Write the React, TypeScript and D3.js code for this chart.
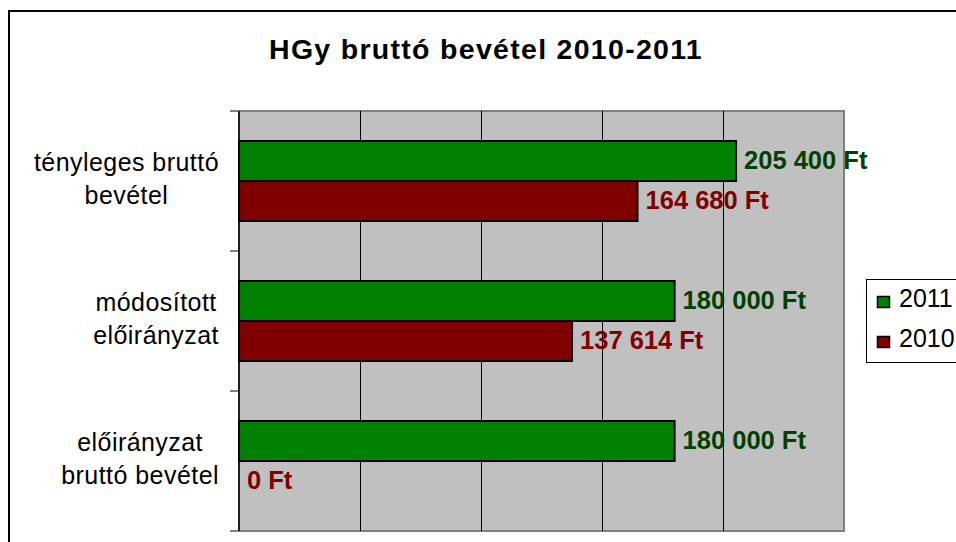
import React, { useEffect, useRef } from 'react';
import * as d3 from 'd3';

// chart data
const categoryLines: string[][] = [
  ['tényleges bruttó', 'bevétel'],
  ['módosított', 'előirányzat'],
  ['előirányzat', 'bruttó bevétel'],
];
const seriesNames = ['2011', '2010'];
const values2011 = [205400, 180000, 180000];
const values2010 = [164680, 137614, 0];
const xTicks = [0, 50000, 100000, 150000, 200000, 250000];

const FONT = '"Liberation Sans", Arial, sans-serif';
const barColors: Record<string, string> = { '2011': '#008000', '2010': '#800000' };
const labelColors: Record<string, string> = { '2011': '#004000', '2010': '#800000' };

const fmt = (v: number) => `${d3.format(',')(v).replace(/,/g, ' ')} Ft`;

const App = () => {
  const svgRef = useRef<SVGSVGElement>(null);

  useEffect(() => {
    const svg = d3.select(svgRef.current);
    svg.selectAll('*').remove();

    const W = 956;
    const H = 542;
    const plot = { left: 239, right: 844, top: 111, bottom: 531 };

    svg.append('rect').attr('width', W).attr('height', H).attr('fill', 'white');

    // outer chart frame (runs off the picture on right and bottom)
    svg
      .append('rect')
      .attr('x', 9)
      .attr('y', 11)
      .attr('width', 1200)
      .attr('height', 1200)
      .attr('fill', 'none')
      .attr('stroke', '#000')
      .attr('stroke-width', 2);

    // title
    svg
      .append('text')
      .attr('x', 486)
      .attr('y', 58.5)
      .attr('text-anchor', 'middle')
      .style('font-family', FONT)
      .style('font-size', '28.5px')
      .style('font-weight', 'bold')
      .style('letter-spacing', '1.3px')
      .text('HGy bruttó bevétel 2010-2011');

    const x = d3.scaleLinear().domain([0, 250000]).range([plot.left, plot.right]);
    const y = d3
      .scaleBand<number>()
      .domain(categoryLines.map((_, i) => i))
      .range([plot.top, plot.bottom]);
    const ySeries = d3
      .scaleBand<string>()
      .domain(seriesNames)
      .range([0, y.bandwidth()])
      .paddingInner(0)
      .paddingOuter(0.75);

    // plot background
    svg
      .append('rect')
      .attr('x', plot.left)
      .attr('y', plot.top)
      .attr('width', plot.right - plot.left)
      .attr('height', plot.bottom - plot.top)
      .attr('fill', '#C0C0C0')
      .attr('stroke', '#808080')
      .attr('stroke-width', 2);

    // vertical gridlines
    svg
      .selectAll('.grid')
      .data(xTicks.slice(1, -1))
      .enter()
      .append('line')
      .attr('x1', (d) => Math.round(x(d)) + 0.5)
      .attr('x2', (d) => Math.round(x(d)) + 0.5)
      .attr('y1', plot.top)
      .attr('y2', plot.bottom)
      .attr('stroke', '#000')
      .attr('stroke-width', 1);

    // category axis with tick marks between categories
    const boundaries = [plot.top, ...categoryLines.map((_, i) => (y(i) as number) + y.bandwidth())];
    svg
      .selectAll('.ytick')
      .data(boundaries)
      .enter()
      .append('line')
      .attr('x1', plot.left - 9)
      .attr('x2', plot.left)
      .attr('y1', (d) => d)
      .attr('y2', (d) => d)
      .attr('stroke', '#808080')
      .attr('stroke-width', 2);
    svg
      .append('line')
      .attr('x1', plot.left)
      .attr('x2', plot.left)
      .attr('y1', plot.top)
      .attr('y2', plot.bottom)
      .attr('stroke', '#202020')
      .attr('stroke-width', 2);

    const rows = categoryLines.map((lines, i) => ({
      i,
      lines,
      '2011': values2011[i],
      '2010': values2010[i],
    }));

    // bars
    seriesNames.forEach((s) => {
      svg
        .selectAll(`.bar-${s}`)
        .data(rows)
        .enter()
        .append('rect')
        .attr('x', x(0))
        .attr('y', (d) => (y(d.i) as number) + (ySeries(s) as number))
        .attr('width', (d) => x(d[s]) - x(0))
        .attr('height', ySeries.bandwidth())
        .attr('fill', barColors[s])
        .attr('stroke', (d) => (d[s] > 0 ? '#000' : 'none'))
        .attr('stroke-width', 2);

      svg
        .selectAll(`.lbl-${s}`)
        .data(rows)
        .enter()
        .append('text')
        .attr('x', (d) => x(d[s]) + 8)
        .attr('y', (d) => (y(d.i) as number) + (ySeries(s) as number) + ySeries.bandwidth() / 2 + 8)
        .attr('fill', labelColors[s])
        .style('font-family', FONT)
        .style('font-size', '25.5px')
        .style('font-weight', 'bold')
        .text((d) => fmt(d[s]));
    });

    // category labels: lines centred in a block that sits against the axis
    const blockRight = 219;
    rows.forEach((d) => {
      const g = svg.append('g');
      const texts = d.lines.map((line, k) =>
        g
          .append('text')
          .attr('y', (y(d.i) as number) + y.bandwidth() / 2 - 10 + k * 32.5)
          .attr('text-anchor', 'middle')
          .style('font-family', FONT)
          .style('font-size', '25px')
          .style('letter-spacing', '0.45px')
          .text(line)
      );
      const maxW = d3.max(texts, (t) => (t.node() as SVGTextElement).getComputedTextLength()) || 0;
      texts.forEach((t) => t.attr('x', blockRight - maxW / 2));
    });

    // legend
    const legend = svg.append('g');
    legend
      .append('rect')
      .attr('x', 866.5)
      .attr('y', 279.5)
      .attr('width', 200)
      .attr('height', 83)
      .attr('fill', '#fff')
      .attr('stroke', '#000')
      .attr('stroke-width', 1);
    seriesNames.forEach((s, k) => {
      legend
        .append('rect')
        .attr('x', 877.5)
        .attr('y', 296.5 + k * 40)
        .attr('width', 12)
        .attr('height', 11)
        .attr('fill', barColors[s])
        .attr('stroke', '#000')
        .attr('stroke-width', 1.5);
      legend
        .append('text')
        .attr('x', 899)
        .attr('y', 307 + k * 40)
        .style('font-family', FONT)
        .style('font-size', '25px')
        .text(s);
    });
  }, []);

  return (
    <svg
      ref={svgRef}
      width={956}
      height={542}
      style={{ position: 'absolute', left: 0, top: 0, display: 'block' }}
    />
  );
};

export default App;
